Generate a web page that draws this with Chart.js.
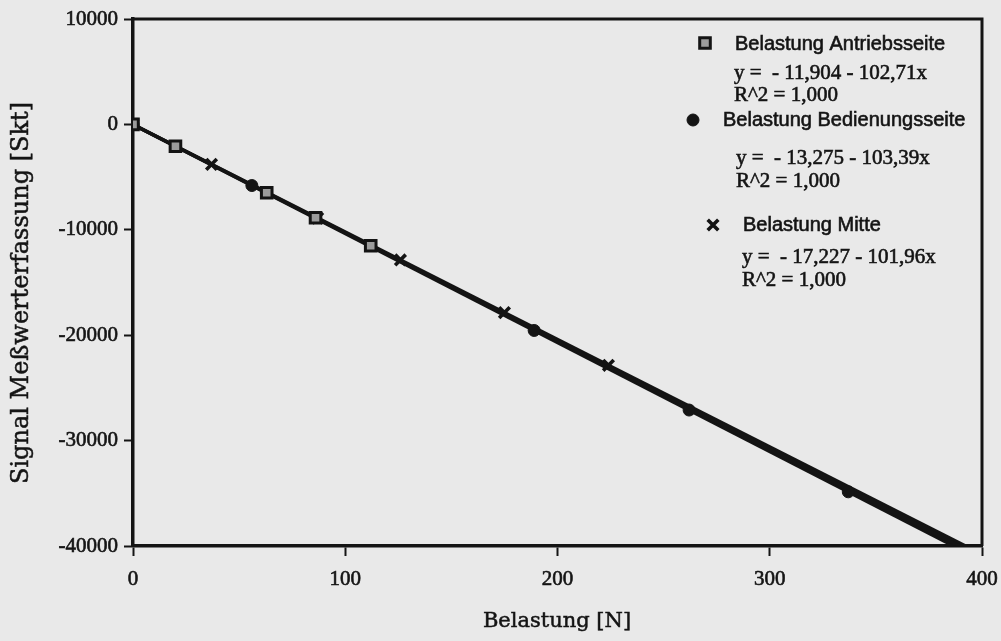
<!DOCTYPE html>
<html>
<head>
<meta charset="utf-8">
<script src="https://cdn.jsdelivr.net/npm/chart.js@4/dist/chart.umd.min.js"></script>
<style>
  html, body { margin: 0; padding: 0; background: #e9e9e9; }
  #wrap { width: 1001px; height: 641px; position: relative; }
</style>
</head>
<body>
<div id="wrap"><canvas id="c" width="1001" height="641"></canvas></div>
<script>
// Measured load points (Belastung in N) and signal readings (Skt) per load position
const loadAntrieb = [0, 20, 63, 86, 112];
const signalAntrieb = [0, -2070, -6480, -8850, -11520];

const loadBedienung = [0, 56, 189, 262, 337];
const signalBedienung = [0, -5800, -19550, -27100, -34860];

const loadMitte = [0, 37, 87, 126, 175, 224];
const signalMitte = [0, -3790, -8890, -12860, -17860, -22860];

// Series names and linear fit coefficients (y = a + b·x)
const seriesNames = ['Belastung Antriebsseite', 'Belastung Bedienungsseite', 'Belastung Mitte'];
const fitIntercepts = [-11.904, -13.275, -17.227];
const fitSlopes = [-102.71, -103.39, -101.96];
const fitR2 = ['1,000', '1,000', '1,000'];
const fitRange = [0, 400];

// Axis ticks and titles
const xTicks = [0, 100, 200, 300, 400];
const yTicks = [10000, 0, -10000, -20000, -30000, -40000];
const xTitle = 'Belastung [N]';
const yTitle = 'Signal Meßwerterfassung [Skt]';

const INK = '#141414';

function toPts(xs, ys) { return xs.map((x, i) => ({ x: x, y: ys[i] })); }
function fitLine(i) {
  return fitRange.map(x => ({ x: x, y: fitIntercepts[i] + fitSlopes[i] * x }));
}
function deNum(v) { return String(Math.abs(v)).replace('.', ','); }
function eqText(i) {
  return 'y =  - ' + deNum(fitIntercepts[i]) + ' - ' + deNum(fitSlopes[i]) + 'x';
}

const markerStyles = [
  { pointStyle: 'rect', radius: 7.5, borderWidth: 3, backgroundColor: '#9c9c9c', borderColor: INK },
  { pointStyle: 'circle', radius: 6, borderWidth: 1, backgroundColor: INK, borderColor: INK },
  { pointStyle: 'crossRot', radius: 7.5, borderWidth: 3.6, backgroundColor: INK, borderColor: INK }
];

const pointSets = [
  toPts(loadAntrieb, signalAntrieb),
  toPts(loadBedienung, signalBedienung),
  toPts(loadMitte, signalMitte)
];

const datasets = [];
pointSets.forEach((pts, i) => {
  const m = markerStyles[i];
  datasets.push({
    label: seriesNames[i],
    data: pts,
    showLine: false,
    pointStyle: m.pointStyle,
    pointRadius: m.radius,
    pointBorderWidth: m.borderWidth,
    pointBackgroundColor: m.backgroundColor,
    pointBorderColor: m.borderColor,
    order: 1
  });
});
[0, 1, 2].forEach(i => {
  datasets.push({
    label: seriesNames[i] + ' Fit',
    data: fitLine(i),
    showLine: true,
    borderColor: INK,
    borderWidth: 3.6,
    pointRadius: 0,
    fill: false,
    order: 2
  });
});

function inkText(ctx, text, x, y, stroke) {
  ctx.fillText(text, x, y);
  if (stroke) {
    ctx.lineWidth = stroke;
    ctx.strokeStyle = INK;
    ctx.strokeText(text, x, y);
  }
}

// Frame on top and right of the plot area, plus the axis titles
const framePlugin = {
  id: 'frame',
  afterDraw(chart) {
    const { ctx, chartArea: a } = chart;
    ctx.save();
    ctx.strokeStyle = INK;
    ctx.lineWidth = 3;
    ctx.beginPath();
    ctx.moveTo(a.left, a.top);
    ctx.lineTo(a.right, a.top);
    ctx.lineTo(a.right, a.bottom);
    ctx.stroke();

    ctx.fillStyle = INK;
    ctx.textAlign = 'center';
    ctx.textBaseline = 'middle';
    ctx.font = '21px "DejaVu Serif", serif';
    inkText(ctx, xTitle, 557, 622, 0.5);

    ctx.translate(22, 293);
    ctx.rotate(-Math.PI / 2);
    ctx.font = '24px "DejaVu Serif", serif';
    inkText(ctx, yTitle, 0, 0, 0.5);
    ctx.restore();
  }
};

// Legend block with regression equations
const legendLayout = [
  { mx: 705, my: 43, nx: 735, ny: 44, ex: 734, ey: 73, ry: 95 },
  { mx: 693, my: 120, nx: 723, ny: 120, ex: 736, ey: 158, ry: 181 },
  { mx: 713, my: 225, nx: 743, ny: 225, ex: 742, ey: 257, ry: 280 }
];
const fitLegendPlugin = {
  id: 'fitLegend',
  afterDraw(chart) {
    const ctx = chart.ctx;
    ctx.save();
    ctx.textBaseline = 'middle';
    ctx.textAlign = 'left';
    legendLayout.forEach((p, i) => {
      const m = markerStyles[i];
      ctx.fillStyle = m.backgroundColor;
      ctx.strokeStyle = m.borderColor;
      ctx.lineWidth = m.borderWidth;
      Chart.helpers.drawPoint(ctx, { pointStyle: m.pointStyle, radius: m.radius, borderWidth: m.borderWidth, rotation: 0 }, p.mx, p.my);
      ctx.fillStyle = INK;
      ctx.font = '20px "Liberation Sans", Arial, sans-serif';
      inkText(ctx, seriesNames[i], p.nx, p.ny, 0.6);
      ctx.font = '21px "Liberation Serif", serif';
      inkText(ctx, eqText(i), p.ex, p.ey, 0.6);
      inkText(ctx, 'R^2 = ' + fitR2[i], p.ex, p.ry, 0.6);
    });
    ctx.restore();
  }
};

new Chart(document.getElementById('c'), {
  type: 'scatter',
  data: { datasets: datasets },
  options: {
    responsive: false,
    animation: false,
    events: [],
    layout: { padding: { left: 0, top: 19, right: 19, bottom: 0 } },
    plugins: { legend: { display: false }, tooltip: { enabled: false } },
    scales: {
      x: {
        type: 'linear',
        min: 0, max: 400,
        afterBuildTicks: s => { s.ticks = xTicks.map(v => ({ value: v })); },
        afterFit: s => { s.height = 95; s.paddingLeft = 0; s.paddingRight = 0; },
        border: { display: true, color: INK, width: 3.5 },
        grid: { display: true, drawOnChartArea: false, drawTicks: true, tickLength: 10, tickWidth: 2, tickColor: INK },
        ticks: {
          padding: 11,
          color: INK,
          textStrokeColor: INK,
          textStrokeWidth: 0.6,
          font: { family: '"Liberation Serif", serif', size: 21 },
          callback: v => String(v)
        },
        title: { display: false }
      },
      y: {
        type: 'linear',
        min: -40000, max: 10000,
        afterBuildTicks: s => { s.ticks = yTicks.map(v => ({ value: v })); },
        afterFit: s => { s.width = 133; s.paddingTop = 0; s.paddingBottom = 0; },
        border: { display: true, color: INK, width: 3.5 },
        grid: { display: true, drawOnChartArea: false, drawTicks: true, tickLength: 9, tickWidth: 2, tickColor: INK },
        ticks: {
          padding: 6,
          color: INK,
          textStrokeColor: INK,
          textStrokeWidth: 0.6,
          font: { family: '"Liberation Serif", serif', size: 21 },
          callback: v => String(v)
        },
        title: { display: false }
      }
    }
  },
  plugins: [framePlugin, fitLegendPlugin]
});
</script>
</body>
</html>
